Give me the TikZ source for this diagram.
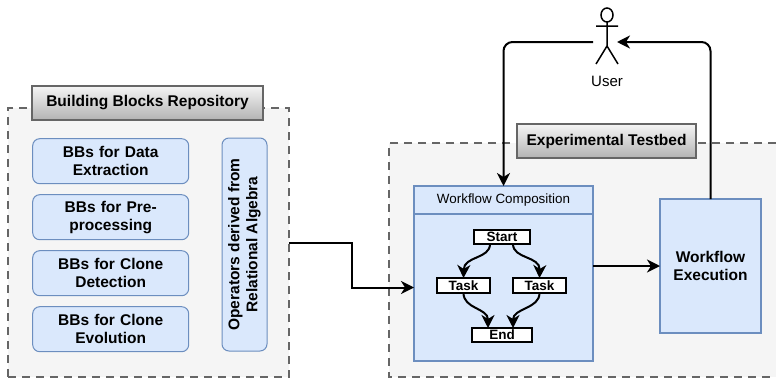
\documentclass[tikz,border=0pt]{standalone}
\usepackage{fontspec}
\setmainfont{Liberation Sans}
\usetikzlibrary{positioning,matrix,fit}
\usetikzlibrary{calc}
\usetikzlibrary{arrows.meta}
\definecolor{bbFillColor}{HTML}{DAE8FC}
\definecolor{bbDrawColor}{HTML}{6C8EBF}
\definecolor{groupFillColor}{HTML}{F5F5F5}
\definecolor{groupDrawColor}{HTML}{666666}
\definecolor{titleLowColor}{HTML}{B3B3B3}
\tikzset{
  group/.style={fill=groupFillColor, draw=groupDrawColor, line width=1.5pt, dash pattern=on 8pt off 6pt},
  title/.style={draw=groupDrawColor, line width=1.5pt, top color=groupFillColor, bottom color=titleLowColor, outer sep=0, font=\fontsize{15.5}{18}\selectfont\bfseries},
  bb/.style={fill=bbFillColor, draw=bbDrawColor, line width=1pt, rounded corners=7pt, outer sep=0, align=center, font=\fontsize{15.5}{18}\selectfont\bfseries},
  wf/.style={fill=bbFillColor, draw=bbDrawColor, line width=2pt, outer sep=0, align=center},
  task/.style={fill=white, draw=black, line width=2pt, outer sep=0, inner sep=0, font=\fontsize{13.5}{15}\selectfont\bfseries},
  link/.style={line width=2pt, -{Stealth[length=13pt,width=13pt,inset=4pt]}}
}
\begin{document}
\begin{tikzpicture}[x=1pt,y=-1pt]
    \useasboundingbox (0,0) rectangle (776,380);
    % left group
    \node[group, minimum width=281pt, minimum height=269pt, outer sep=0] (repo) at (148.5,242.5) {};
    \node[title, minimum width=231pt, minimum height=34pt] (repoTitle) at (147.5,103) {Building Blocks Repository};
    \matrix (blocks) [matrix of nodes, anchor=north west, inner sep=0pt,
        nodes={bb, minimum height=45pt, text width=150pt, minimum width=156pt, inner xsep=3pt, inner ysep=0pt},
        row sep=10pt
      ] at (32,138)
      {
        {BBs for Data\\Extraction}\\
        {BBs for Pre-\\processing}\\
        {BBs for Clone\\Detection}\\
        {BBs for Clone\\Evolution}\\
      };
    \node[bb, rotate=90, minimum width=213pt, minimum height=45pt, inner sep=0] (operators) at (244.5,244.5) {Operators derived from\\Relational Algebra};
    % right group, runs off the page
    \coordinate (bedTL) at (389,143);
    \coordinate (bedBL) at (389,377);
    \coordinate (bedTR) at (776,143);
    \coordinate (bedBR) at (776,377);
    \fill[groupFillColor] (bedTL) rectangle (bedBR);
    \draw[group, fill=none] (bedTR) -- (bedTL) -- (bedBL) -- (bedBR);
    \node[title, minimum width=179pt, minimum height=34pt] (bedTitle) at (606.5,141) {Experimental Testbed};
    \node[wf, minimum width=179pt, minimum height=28pt, font=\fontsize{13.4}{15}\selectfont] (compTitle) at (503.5,200) {Workflow Composition};
    \node[wf, minimum width=179pt, minimum height=147pt] (compBody) at (503.5,287.5) {};
    \node[wf, minimum width=101pt, minimum height=134pt, font=\fontsize{15.5}{18}\selectfont\bfseries] (exec) at (710.5,266) {Workflow\\Execution};
    % flow inside the composition
    \node[task, minimum width=56pt, minimum height=14pt] (start) at (502,237) {Start};
    \node[task, minimum width=53pt, minimum height=15pt] (taskA) at (463.5,285.5) {Task};
    \node[task, minimum width=53pt, minimum height=15pt] (taskB) at (539.5,285.5) {Task};
    \node[task, minimum width=60pt, minimum height=14pt] (end) at (502,335) {End};
    \draw[link] ($(start.south)+(-12,0)$) .. controls +(0,15) and (464,256) .. (taskA.north);
    \draw[link] ($(start.south)+(11,0)$) .. controls +(0,15) and (540,256) .. (taskB.north);
    \draw[link] (taskA.south) .. controls +(0,16) and (488,308) .. ($(end.north)+(-14,0)$);
    \draw[link] (taskB.south) .. controls +(0,16) and (513,308) .. ($(end.north)+(11,0)$);
    % actor
    \draw[line width=1.5pt] (607,15) ellipse (6pt and 7pt);
    \draw[line width=1.5pt] (607,22) -- (607,46) (596,26) -- (618,26) (596,64) -- (607,46) -- (618,64);
    \node[font=\fontsize{15}{17}\selectfont, inner sep=0] (user) at (607,81) {User};
    \coordinate (userL) at (593,42);
    \coordinate (userR) at (617,42);
    % connectors
    \draw[link] (repo.east) -- ++(63,0) |- (compBody.west);
    \draw[link] (compBody.east |- exec.west) -- (exec.west);
    \draw[link, rounded corners=9pt] (exec.north) |- (userR);
    \draw[link, rounded corners=9pt] (userL) -| (compTitle.north);
\end{tikzpicture}
\end{document}
